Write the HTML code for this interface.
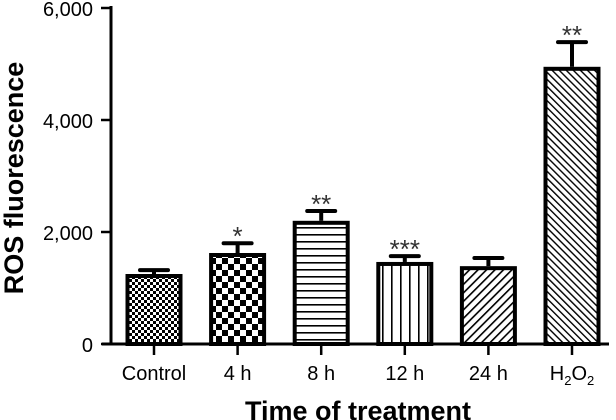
<!DOCTYPE html>
<html><head><meta charset="utf-8"><style>
body{margin:0;background:#fff}
svg{display:block;font-family:"Liberation Sans",Arial,sans-serif}
</style></head><body>
<svg id="chart" width="616" height="420" viewBox="0 0 616 420" xmlns="http://www.w3.org/2000/svg">
<defs>
<pattern id="p0" width="6" height="6" patternUnits="userSpaceOnUse"><rect width="6" height="6" fill="#fff"/><rect width="3" height="3" fill="#000"/><rect x="3" y="3" width="3" height="3" fill="#000"/></pattern>
<pattern id="p1" width="12" height="12" patternUnits="userSpaceOnUse"><rect width="12" height="12" fill="#fff"/><rect width="6" height="6" fill="#000"/><rect x="6" y="6" width="6" height="6" fill="#000"/></pattern>
<pattern id="p2" width="7" height="7" patternUnits="userSpaceOnUse"><rect width="7" height="7" fill="#fff"/><rect y="3" width="7" height="1.6" fill="#000"/></pattern>
<pattern id="p3" width="9" height="9" patternUnits="userSpaceOnUse"><rect width="9" height="9" fill="#fff"/><rect x="4" width="1.6" height="9" fill="#000"/></pattern>
<pattern id="p4" width="6" height="6" patternUnits="userSpaceOnUse" patternTransform="rotate(45)"><rect width="6" height="6" fill="#fff"/><rect width="1.6" height="6" fill="#000"/></pattern>
<pattern id="p5" width="5" height="5" patternUnits="userSpaceOnUse" patternTransform="rotate(-45)"><rect width="5" height="5" fill="#fff"/><rect width="1.4" height="5" fill="#000"/></pattern>
</defs>
<g id="bars"></g>
<g id="axes"></g>
<text transform="translate(23,178) rotate(-90)" text-anchor="middle" font-size="27" font-weight="bold">ROS fluorescence</text>
<text x="358" y="420" text-anchor="middle" font-size="27" font-weight="bold">Time of treatment</text>
</svg>
<script>
const categories=["Control","4 h","8 h","12 h","24 h","H2O2"];
const values=[1250,1625,2200,1465,1390,4950];
const errors=[70,175,175,105,145,440];
const stars=["","*","**","***","","**"];
const yTicks=[0,2000,4000,6000];
const yTickLabels=["0","2,000","4,000","6,000"];
const NS="http://www.w3.org/2000/svg";
const y0=344,pxPer=56/1000;
const y=v=>y0-v*pxPer;
const x=i=>154+i*83.6;
const bw=57;
const bars=document.getElementById('bars'),axes=document.getElementById('axes');
function mk(tag,attrs,parent){const e=document.createElementNS(NS,tag);for(const k in attrs)e.setAttribute(k,attrs[k]);parent.appendChild(e);return e;}
categories.forEach((c,i)=>{
  const cx=x(i),top=y(values[i]),et=y(values[i]+errors[i]);
  const ln=mk('line',{x1:cx,x2:cx,y1:top,y2:et,stroke:'#000','stroke-width':4},bars);
  
  
  const cap=mk('line',{x1:cx-14,x2:cx+14,y1:et,y2:et,stroke:'#000','stroke-width':4,'stroke-linecap':'round'},bars);
  
  
  const r=mk('rect',{x:cx-bw/2+2,y:top+2,width:bw-4,height:y0-top-2,fill:'url(#p'+i+')',stroke:'#000','stroke-width':4},bars);
  
  
  if(stars[i]){
    const s=mk('text',{x:cx,y:et+2,'text-anchor':'middle','font-size':26,fill:'#333'},bars);
    s.textContent=stars[i];
    
    
  }
  const t=mk('line',{x1:cx,x2:cx,y1:y0,y2:y0+11,stroke:'#000','stroke-width':2.5},axes);
  
  
  const l=mk('text',{x:cx,y:380,'text-anchor':'middle','font-size':20},axes);
  if(c==="H2O2"){l.innerHTML='H<tspan font-size="13" dy="5">2</tspan><tspan dy="-5">O</tspan><tspan font-size="13" dy="5">2</tspan>';}
  else l.textContent=c;
  
  
});
const ya=mk('line',{x1:111,x2:111,y1:6,y2:y0+1,stroke:'#000','stroke-width':3},axes);


const xa=mk('line',{x1:102,x2:609,y1:y0,y2:y0,stroke:'#000','stroke-width':3},axes);


yTicks.forEach((v,i)=>{
  const t=mk('line',{x1:101,x2:111,y1:y(v),y2:y(v),stroke:'#000','stroke-width':2.5},axes);
  
  
  const l=mk('text',{x:93,y:y(v)+8,'text-anchor':'end','font-size':20},axes);
  l.textContent=yTickLabels[i];
  
  
});
</script>
</body></html>
